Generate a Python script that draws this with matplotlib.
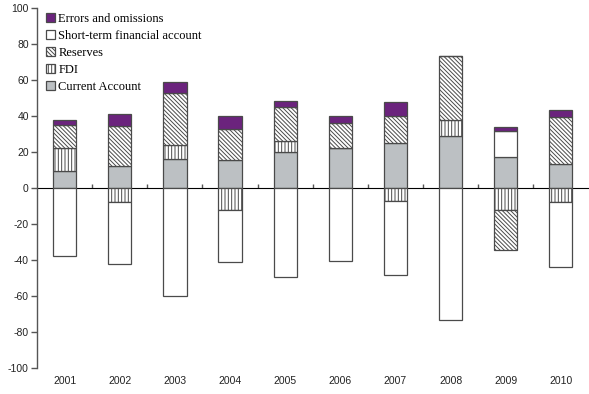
import matplotlib
matplotlib.use("Agg")
import matplotlib.pyplot as plt
import numpy as np

years = ["2001", "2002", "2003", "2004", "2005", "2006", "2007", "2008", "2009", "2010"]
current_account = [9.3, 12.2, 16.0, 15.5, 19.7, 22.2, 25.2, 29.1, 17.4, 13.3]
fdi = [12.9, -8.0, 8.0, -12.1, 6.5, 0.0, -7.1, 8.9, -12.1, -7.7]
reserves = [12.8, 22.2, 28.7, 17.0, 18.7, 13.7, 14.8, 35.1, -22.2, 26.1]
short_term = [-38.0, -34.2, -60.0, -28.8, -49.5, -40.4, -41.3, -73.2, 14.1, -36.3]
errors = [2.6, 6.7, 6.4, 7.7, 3.5, 4.3, 8.0, 0.0, 2.2, 4.1]

series = [
    ("Current Account", current_account, "#bcc0c3", None),
    ("FDI", fdi, "white", "|||||"),
    ("Reserves", reserves, "white", "\\\\\\\\\\\\\\\\"),
    ("Short-term financial account", short_term, "white", None),
    ("Errors and omissions", errors, "#6b237d", None),
]

plt.rcParams["hatch.linewidth"] = 0.7
plt.rcParams["axes.unicode_minus"] = False
fig = plt.figure(figsize=(5.89, 3.94), dpi=100)
ax = fig.add_axes([0.063, 0.066, 0.936, 0.914])

x = np.arange(len(years))
pos_base = np.zeros(len(years))
neg_base = np.zeros(len(years))
handles = []
edge = "#4a4a4a"
for name, vals, color, hatch in series:
    v = np.array(vals, dtype=float)
    bottom = np.where(v >= 0, pos_base, neg_base)
    h = ax.bar(x, v, width=0.42, bottom=bottom, color=color, edgecolor=edge,
               linewidth=0.9, hatch=hatch, label=name, zorder=2)
    handles.append(h)
    pos_base = pos_base + np.where(v > 0, v, 0)
    neg_base = neg_base + np.where(v < 0, v, 0)

ax.set_xlim(-0.5, len(years) - 0.5)
ax.set_ylim(-100, 100)
ax.set_yticks(np.arange(-100, 101, 20))
ax.set_xticks(x)
ax.set_xticklabels(years)
for s in ["top", "right", "bottom"]:
    ax.spines[s].set_visible(False)
ax.spines["left"].set_color("#555555")
ax.spines["left"].set_linewidth(1.0)
ax.tick_params(axis="y", direction="out", length=4, width=1, color="#555555",
               labelsize=7.5, labelcolor="#222222", pad=2)
ax.tick_params(axis="x", length=0, labelsize=7.5, labelcolor="#222222", pad=6)
for lab in ax.get_xticklabels() + ax.get_yticklabels():
    lab.set_fontfamily("Liberation Sans")

sec = ax.secondary_xaxis(0.5)
sec.set_xticks(np.arange(0.5, len(years) - 0.5, 1.0))
sec.set_xticklabels([])
sec.spines["bottom"].set_color("#555555")
sec.spines["bottom"].set_linewidth(1.0)
sec.tick_params(axis="x", direction="out", length=3, width=1, color="#555555")

leg = ax.legend(handles[::-1], [s[0] for s in series][::-1], loc="upper left",
                bbox_to_anchor=(0.0, 1.01), frameon=False,
                prop={"family": "Liberation Serif", "size": 9},
                handlelength=0.7, handleheight=0.7, handletextpad=0.3,
                labelspacing=0.4, borderaxespad=0.3)

fig.savefig("out.png", dpi=100)
